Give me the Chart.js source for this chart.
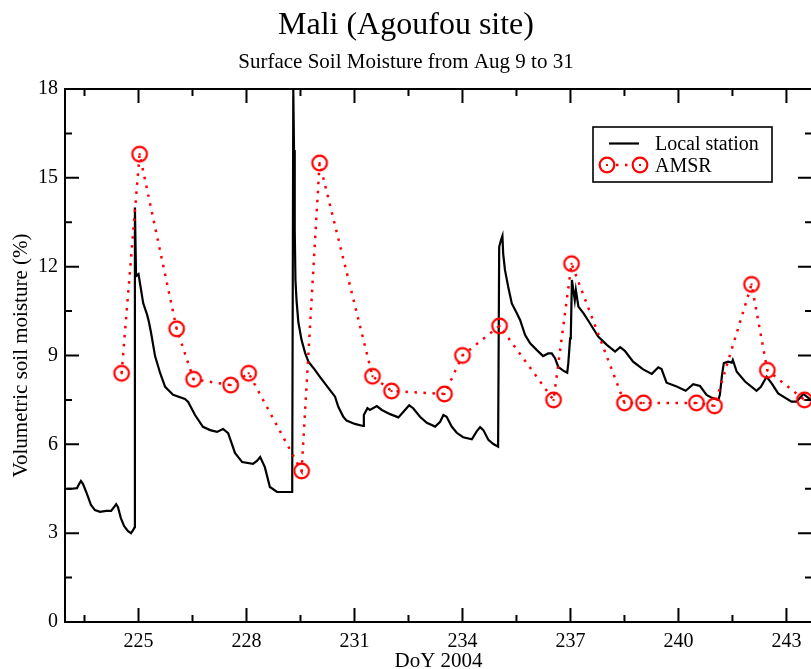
<!DOCTYPE html>
<html><head><meta charset="utf-8">
<script src="https://cdn.jsdelivr.net/npm/chart.js@4/dist/chart.umd.min.js"></script>
<style>html,body{margin:0;padding:0;background:#fff;overflow:hidden}#wrap{width:814px;height:669px}</style>
</head><body><div id="wrap"><canvas id="c" width="814" height="669"></canvas></div>
<script>
// ---- Data (DoY 2004, volumetric soil moisture %) ----
const stationDay = [223.0,223.15,223.29,223.35,223.40,223.46,223.57,223.68,223.79,223.93,224.10,224.24,224.32,224.38,224.43,224.51,224.60,224.71,224.79,224.85,224.89,
 224.90,224.93,224.94,225.0,225.04,225.13,225.24,225.29,225.35,225.46,225.6,225.74,225.96,226.29,226.38,226.57,226.79,226.99,227.18,227.35,227.49,227.68,227.88,228.18,228.29,228.38,228.51,228.65,228.85,229.07,229.27,
 229.30,229.32,229.34,229.36,229.39,229.44,229.53,229.63,229.72,229.86,230.04,230.32,230.46,230.55,230.69,230.78,231.01,231.24,231.26,231.36,231.43,231.62,231.76,231.99,232.22,232.36,232.52,232.63,232.82,233.01,233.24,233.38,233.47,233.56,233.70,233.84,234.02,234.26,234.39,234.49,234.58,234.72,234.86,234.99,
 235.02,235.07,235.11,235.13,235.18,235.27,235.37,235.51,235.60,235.74,235.88,236.06,236.24,236.38,236.48,236.57,236.66,236.80,236.91,236.94,236.99,237.01,237.04,237.12,237.15,237.22,237.36,237.54,237.77,
 238.01,238.24,238.38,238.51,238.74,239.02,239.26,239.44,239.53,239.67,239.95,240.20,240.41,240.60,240.78,240.93,241.11,241.15,241.21,241.26,241.38,241.48,241.51,241.62,241.85,242.17,242.29,242.45,242.59,242.77,243.14,243.28,243.47,243.68];
const stationVal = [4.5,4.5,4.52,4.66,4.76,4.66,4.32,3.95,3.78,3.72,3.75,3.75,3.88,3.98,3.88,3.51,3.24,3.07,3.0,3.1,3.2,
 14.0,11.8,11.69,11.75,11.45,10.77,10.37,10.13,9.76,8.98,8.41,7.94,7.67,7.53,7.43,6.99,6.59,6.48,6.42,6.52,6.38,5.71,5.40,5.34,5.44,5.57,5.23,4.56,4.39,4.39,4.39,
 18.0,15.94,13.24,11.55,10.87,10.13,9.52,9.08,8.79,8.58,8.28,7.83,7.61,7.27,6.93,6.80,6.69,6.62,6.99,7.22,7.16,7.29,7.16,7.02,6.91,7.10,7.32,7.22,6.93,6.73,6.60,6.76,6.99,6.93,6.60,6.39,6.24,6.17,6.43,6.58,6.48,6.15,6.01,5.92,
 12.67,12.90,13.04,12.45,11.89,11.32,10.76,10.43,10.20,9.69,9.41,9.19,8.98,9.07,9.07,8.91,8.62,8.49,8.42,8.74,9.58,9.69,11.55,10.87,11.21,10.65,10.43,10.09,9.64,
 9.36,9.13,9.28,9.16,8.79,8.53,8.38,8.60,8.54,8.08,7.95,7.81,8.03,7.97,7.67,7.57,7.50,7.67,8.34,8.74,8.79,8.76,8.85,8.45,8.12,7.81,7.94,8.28,8.06,7.72,7.44,7.44,7.70,7.50];
const amsrDay = [224.53,225.03,226.06,226.53,227.56,228.06,229.53,230.03,231.5,232.03,233.5,234.0,235.03,236.53,237.03,238.5,239.03,240.5,241.0,242.03,242.47,243.5];
const amsrVal = [8.4,15.8,9.9,8.2,8.0,8.4,5.1,15.5,8.3,7.8,7.7,9.0,10.0,7.5,12.1,7.4,7.4,7.4,7.3,11.4,8.5,7.5];
const xMajorTicks = [225,228,231,234,237,240,243];
const xMinorTicks = [223.5,226.5,229.5,232.5,235.5,238.5,241.5];
const yMajorTicks = [0,3,6,9,12,15,18];
const yMinorTicks = [1.5,4.5,7.5,10.5,13.5,16.5];
const titleText = 'Mali (Agoufou site)';
const subtitleText = 'Surface Soil Moisture from Aug 9 to 31';
const xTitle = 'DoY 2004';
const yTitle = 'Volumetric soil moisture (%)';
const seriesNames = ['Local station','AMSR'];

const FONT = 'Liberation Serif, Times New Roman, serif';
Chart.defaults.color = '#000';
Chart.defaults.font.family = FONT;

function makeMarker(){
  const c = document.createElement('canvas'); c.width = 20; c.height = 20;
  const g = c.getContext('2d');
  g.strokeStyle = '#ff0000'; g.lineWidth = 2.2;
  g.beginPath(); g.arc(10,10,7.3,0,Math.PI*2); g.stroke();
  g.fillStyle = '#ff0000'; g.fillRect(9,9,2,2);
  return c;
}
const marker = makeMarker();

const decorPlugin = {
  id: 'decor',
  afterDraw(chart){
    const {ctx, chartArea:a, scales:{x, y}} = chart;
    ctx.save();
    ctx.strokeStyle = '#000'; ctx.lineWidth = 2;
    ctx.strokeRect(a.left, a.top, a.right - a.left, a.bottom - a.top);
    ctx.beginPath();
    const tx = (v, len) => { const p = x.getPixelForValue(v); ctx.moveTo(p, a.bottom); ctx.lineTo(p, a.bottom - len); ctx.moveTo(p, a.top); ctx.lineTo(p, a.top + len); };
    const ty = (v, len) => { const p = y.getPixelForValue(v); ctx.moveTo(a.left, p); ctx.lineTo(a.left + len, p); ctx.moveTo(a.right, p); ctx.lineTo(a.right - len, p); };
    xMajorTicks.forEach(v => tx(v, 14)); xMinorTicks.forEach(v => tx(v, 7));
    yMajorTicks.forEach(v => ty(v, 14)); yMinorTicks.forEach(v => ty(v, 7));
    ctx.stroke();
    // legend
    const L = 593, T = 127, W = 179, H = 55;
    ctx.fillStyle = '#fff'; ctx.fillRect(L, T, W, H);
    ctx.lineWidth = 1.6; ctx.strokeRect(L, T, W, H);
    ctx.lineWidth = 2.2; ctx.beginPath(); ctx.moveTo(609, 143.5); ctx.lineTo(639, 143.5); ctx.stroke();
    ctx.strokeStyle = '#ff0000'; ctx.lineWidth = 2.5; ctx.setLineDash([2.5, 6.5]);
    ctx.beginPath(); ctx.moveTo(616, 165); ctx.lineTo(632, 165); ctx.stroke();
    ctx.setLineDash([]);
    ctx.drawImage(marker, 607 - 10, 165 - 10); ctx.drawImage(marker, 640 - 10, 165 - 10);
    ctx.fillStyle = '#000'; ctx.font = '20px ' + FONT; ctx.textBaseline = 'alphabetic'; ctx.textAlign = 'left';
    ctx.fillText(seriesNames[0], 655, 150);
    ctx.fillText(seriesNames[1], 655, 172);
    ctx.restore();
  }
};

new Chart(document.getElementById('c'), {
  type: 'line',
  data: {
    datasets: [
      { label: seriesNames[1], data: amsrDay.map((d,i)=>({x:d, y:amsrVal[i]})),
        borderColor: '#ff0000', borderWidth: 2.5, borderDash: [2.5, 6.5],
        pointStyle: marker, pointRadius: 8, pointHoverRadius: 8, tension: 0, clip: 12 },
      { label: seriesNames[0], data: stationDay.map((d,i)=>({x:d, y:stationVal[i]})),
        borderColor: '#000', borderWidth: 2.2, pointRadius: 0, tension: 0 }
    ]
  },
  options: {
    responsive: false, animation: false, events: [],
    layout: { autoPadding: false, padding: { left: 0, right: 2, top: 0, bottom: 0 } },
    plugins: {
      legend: { display: false }, tooltip: { enabled: false },
      title: { display: true, text: titleText, font: { size: 32, family: FONT, weight: 'normal' }, padding: { top: 6, bottom: 0 }, color: '#000' },
      subtitle: { display: true, text: subtitleText, font: { size: 21, family: FONT, weight: 'normal' }, padding: { top: 5, bottom: 14.4 }, color: '#000' }
    },
    scales: {
      x: { type: 'linear', min: 222.958, max: 243.71,
        afterBuildTicks: s => { s.ticks = xMajorTicks.map(v => ({value: v})); },
        afterFit: s => { s.height = 47; s.paddingLeft = 0; s.paddingRight = 0; },
        grid: { display: false, drawTicks: false }, border: { display: false },
        ticks: { font: { size: 20, family: FONT }, padding: 8, maxRotation: 0, autoSkip: false, color: '#000' },
        title: { display: true, text: xTitle, font: { size: 21, family: FONT, lineHeight: 0.7 }, padding: 0, color: '#000' } },
      y: { type: 'linear', min: 0, max: 18,
        afterBuildTicks: s => { s.ticks = yMajorTicks.map(v => ({value: v})); },
        afterFit: s => { s.width = 65; s.paddingTop = 0; s.paddingBottom = 0; },
        grid: { display: false, drawTicks: false }, border: { display: false },
        ticks: { font: { size: 20, family: FONT }, padding: 7, color: '#000' },
        title: { display: true, text: yTitle, font: { size: 21, family: FONT, lineHeight: 1 }, padding: { top: 11, bottom: 0 }, color: '#000' } }
    }
  },
  plugins: [decorPlugin]
});
</script>
</body></html>
